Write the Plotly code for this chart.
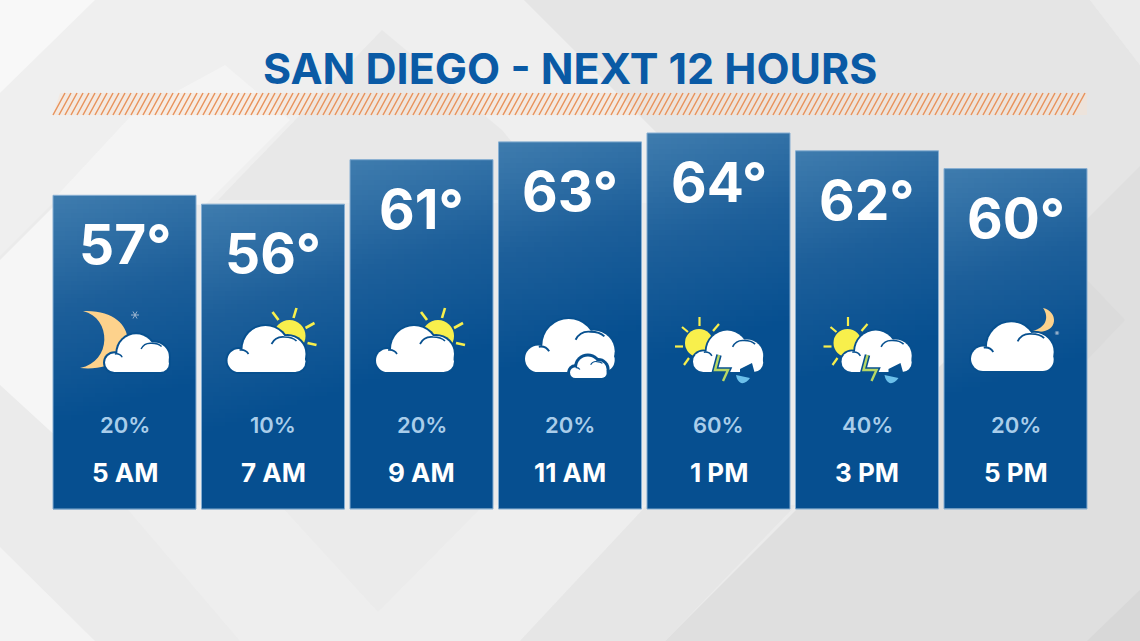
import numpy as np
import plotly.graph_objects as go

HOURS = ["5 AM", "7 AM", "9 AM", "11 AM", "1 PM", "3 PM", "5 PM"]
TEMPS = [57, 56, 61, 63, 64, 62, 60]
RAIN = [20, 10, 20, 20, 60, 40, 20]
ICONS = ["moon_small", "sun", "sun", "cloud_small", "storm", "storm", "moon"]
TITLE = "SAN DIEGO - NEXT 12 HOURS"

W, H = 1140, 641
BLUE = "#07508f"
WHITE = "#ffffff"
SUN = "#f8ef4c"
MOON = "#fdd28c"
BASE_T = 21.75
PX_PER_DEG = 8.9
FONT = "Inter"

shapes = []


def poly(pts, color, layer="above"):
    d = "M" + " L".join(f"{x},{y}" for x, y in pts) + " Z"
    shapes.append(dict(type="path", path=d, fillcolor=color, line_width=0, layer=layer,
                       xref="x", yref="y"))


def path(d, color=None, stroke=None, width=0, layer="above"):
    s = dict(type="path", path=d, layer=layer, xref="x", yref="y")
    s["fillcolor"] = color if color else "rgba(0,0,0,0)"
    s["line"] = dict(color=stroke if stroke else "rgba(0,0,0,0)", width=width)
    shapes.append(s)


def circle(cx, cy, r, color):
    shapes.append(dict(type="circle", x0=cx - r, x1=cx + r, y0=cy - r, y1=cy + r,
                       fillcolor=color, line_width=0, layer="above", xref="x", yref="y"))


def rect(x0, y0, x1, y1, color):
    shapes.append(dict(type="rect", x0=x0, x1=x1, y0=y0, y1=y1,
                       fillcolor=color, line_width=0, layer="above", xref="x", yref="y"))


def cloud(x, y, s, out=2.0):
    # x = left edge, y = bottom edge, s = scale of the 78px wide cloud
    lobes = [(11.5, 11.5, 11.5), (38, 23, 23), (60, 18, 18), (67.5, 10.5, 10.5)]
    for c in (BLUE, WHITE):
        grow = out if c == BLUE else 0
        for lx, ly, r in lobes:
            circle(x + lx * s, y - ly * s, r * s + grow, c)
        rect(x + 11 * s - grow, y - 20 * s, x + 68 * s + grow, y + grow, c)
    w = max(1.2, 1.7 * s)
    path(f"M{x + 12 * s},{y - 22 * s} Q{x + 18 * s},{y - 23 * s} {x + 21 * s},{y - 18 * s}",
         stroke=BLUE, width=w)
    path(f"M{x + 44 * s},{y - 28 * s} Q{x + 48 * s},{y - 36 * s} {x + 57 * s},{y - 35 * s} "
         f"Q{x + 65 * s},{y - 35 * s} {x + 69 * s},{y - 31 * s}", stroke=BLUE, width=w)


def rays(lines, width=2.6):
    for x0, y0, x1, y1 in lines:
        path(f"M{x0},{y0} L{x1},{y1}", stroke=SUN, width=width)


def star(x, y, r, color="#9fb6cf"):
    for a in (0, 60, 120):
        dx, dy = r * np.cos(np.radians(a)), r * np.sin(np.radians(a))
        path(f"M{x - dx:.1f},{y - dy:.1f} L{x + dx:.1f},{y + dy:.1f}", stroke=color, width=1)


def draw_icon(kind, cx):
    if kind == "moon_small":
        dx = cx - 124.5
        path(f"M{dx + 83},{311} C{dx + 143},{308} {dx + 143},{374} {dx + 80},{368} "
             f"C{dx + 112},{362} {dx + 112},{318} {dx + 83},{311} Z", color=MOON)
        star(dx + 135, 315, 4)
        cloud(dx + 105, 372, 0.82)
    elif kind == "sun":
        dx = cx - 273.5
        circle(dx + 290, 336, 16, SUN)
        rays([(dx + 273, 312, dx + 279, 320), (dx + 297, 308, dx + 294, 318),
              (dx + 315, 323, dx + 306, 328), (dx + 308, 343, dx + 317, 345)])
        cloud(dx + 228, 372, 1.0)
    elif kind == "cloud_small":
        dx = cx - 570
        cloud(dx + 525, 372, 1.15)
        cloud(dx + 570, 378, 0.47, out=3)
    elif kind == "storm":
        dx = cx - 718.5
        circle(dx + 699, 343, 14, SUN)
        rays([(dx + 675, 346.5, dx + 683, 346.5), (dx + 682, 327, dx + 688, 332),
              (dx + 699.5, 317, dx + 699.5, 326), (dx + 719, 324, dx + 713, 331),
              (dx + 684, 365, dx + 689, 358)], width=2.2)
        cloud(dx + 693, 372, 0.9, out=1.8)
        poly([(dx + 740, 369), (dx + 752, 363), (dx + 755, 374), (dx + 740, 374)], BLUE)
        bolt = f"M{dx + 719},{355} L{dx + 715},{370} L{dx + 728},{370} L{dx + 723},{381}"
        path(bolt, stroke=BLUE, width=5.5)
        path(bolt, stroke="#b7d764", width=2.4)
        path(f"M{dx + 736},{375} L{dx + 750},{378} Q{dx + 746},{384} {dx + 741},{383} "
             f"Q{dx + 737},{381} {dx + 736},{375} Z", color="#6cc0ea")
    elif kind == "moon":
        dx = cx - 1015.5
        path(f"M{dx + 1043},{308} C{dx + 1060},{312} {dx + 1058},{336} {dx + 1033},{331} "
             f"C{dx + 1045},{328} {dx + 1050},{318} {dx + 1043},{308} Z", color=MOON)
        star(dx + 1057, 333, 2.2)
        cloud(dx + 971, 371, 1.06)


# backdrop panels
BACK = [
    ([(0, 0), (524, 0), (727, 203), (53, 203), (0, 256)], "#efefef"),
    ([(524, 0), (1090, 0), (1140, 65), (1140, 300), (727, 300), (727, 203)], "#e5e5e5"),
    ([(0, 0), (95, 0), (0, 93)], "#f8f8f8"),
    ([(1090, 0), (1140, 0), (1140, 65)], "#ebebeb"),
    ([(382, 30), (218, 200), (560, 200), (502, 130)], "#e8e8e8"),
    ([(130, 117), (65, 187), (53, 200), (205, 205), (290, 120), (225, 65)], "#f4f4f4"),
    ([(0, 260), (60, 200), (60, 440), (0, 385)], "#f6f6f6"),
    ([(1140, 641), (665, 641), (1140, 166)], "#dfdfdf"),
    ([(1087, 280), (1125, 320), (1087, 360)], "#dbdbdb"),
    ([(1087, 641), (1140, 590), (1140, 641)], "#d8d8d8"),
    ([(124, 505), (280, 505), (378, 612), (484, 505), (647, 505), (520, 641), (240, 641)], "#eeeeee"),
    ([(647, 505), (796, 505), (665, 641), (520, 641)], "#e6e6e6"),
    ([(0, 547), (95, 641), (0, 641)], "#f3f3f3"),
]
for pts, c in BACK:
    poly(pts, c, layer="below")

# orange hatch band under the title
poly([(53, 115), (60, 93), (1087, 93), (1087, 115)], "rgba(250,225,205,0.4)", layer="below")
hatch = " ".join(f"M{x},115 L{x + 12},93" for x in np.arange(53, 1076, 6.0))
path(hatch, stroke="#e8935c", width=1.5, layer="below")

fig = go.Figure()
# pixel axes used by the decoration shapes
fig.add_trace(go.Scatter(x=[0], y=[0], mode="markers", opacity=0, hoverinfo="skip",
                         showlegend=False, xaxis="x", yaxis="y"))

ys = np.arange(len(TEMPS))
bar_w = 143 / 148.5
colorscale = [[0, "#3f7cae"], [0.5, "#1d5f9a"], [1, "#064f90"]]
for i, t in enumerate(TEMPS):
    n, m = 70, 24
    ye = np.linspace(BASE_T, t, n + 1)
    xe = np.linspace(i - bar_w / 2, i + bar_w / 2, m + 1)
    depth = (t - (ye[:-1] + ye[1:]) / 2) * PX_PER_DEG
    across = ((xe[:-1] + xe[1:]) / 2 - xe[0]) * 148.5
    z = np.minimum(1, (depth[:, None] + 0.3 * across[None, :]) / 230)
    fig.add_trace(go.Heatmap(x=xe, y=ye, z=z, zmin=0, zmax=1, colorscale=colorscale,
                             showscale=False, hoverinfo="skip", xaxis="x2", yaxis="y2"))

fig.add_trace(go.Bar(x=list(ys), y=[t - BASE_T for t in TEMPS], base=BASE_T, width=bar_w,
                     marker=dict(color="rgba(0,0,0,0)", line=dict(color="#86aed2", width=1)),
                     text=HOURS, textposition="none", hoverinfo="skip", showlegend=False,
                     xaxis="x2", yaxis="y2"))

ann = [dict(text=TITLE, x=570, y=68, xref="x", yref="y", showarrow=False,
            font=dict(family=FONT, size=43, color="#0a5aa5", weight=700))]
for i, t in enumerate(TEMPS):
    ann.append(dict(text=f"{t}°", x=i, y=t, xref="x2", yref="y2", yshift=-49, showarrow=False,
                    font=dict(family=FONT, size=55, color=WHITE, weight=700)))
    ann.append(dict(text=f"{RAIN[i]}%", x=i, y=425, xref="x2", yref="y", showarrow=False,
                    font=dict(family=FONT, size=22, color="#a9cdea", weight=600)))
    ann.append(dict(text=HOURS[i], x=i, y=472, xref="x2", yref="y", showarrow=False,
                    font=dict(family=FONT, size=26, color=WHITE, weight=700)))
    draw_icon(ICONS[i], 124.5 + 148.5 * i)

fig.update_layout(
    width=W, height=H, margin=dict(l=0, r=0, t=0, b=0),
    paper_bgcolor="#ebebeb", plot_bgcolor="rgba(0,0,0,0)", showlegend=False,
    xaxis=dict(range=[0, W], visible=False, domain=[0, 1], fixedrange=True),
    yaxis=dict(range=[H, 0], visible=False, domain=[0, 1], fixedrange=True),
    xaxis2=dict(range=[-124.5 / 148.5, (W - 124.5) / 148.5], visible=False, domain=[0, 1],
                overlaying="x", fixedrange=True),
    yaxis2=dict(range=[64 - (H - 133) / PX_PER_DEG, 64 + 133 / PX_PER_DEG], visible=False,
                domain=[0, 1], overlaying="y", fixedrange=True),
    shapes=shapes, annotations=ann,
)

fig.write_html("out.html", config={"displayModeBar": False},
               post_script="document.body.style.margin='0';")
